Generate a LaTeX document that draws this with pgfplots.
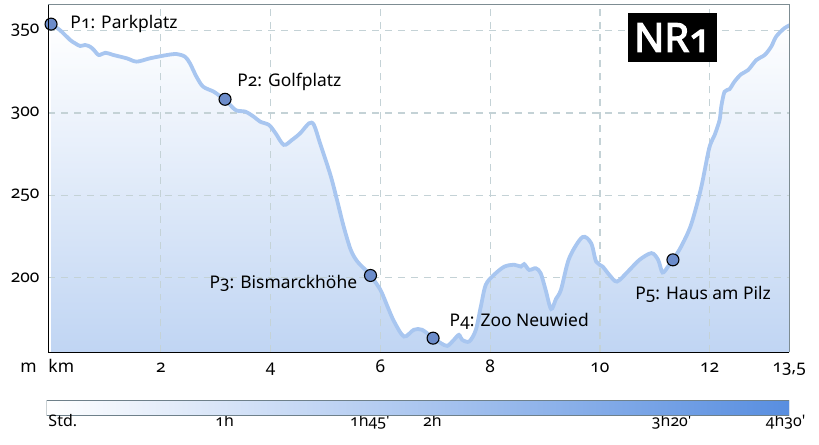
\documentclass[border=0pt]{standalone}
\usepackage{fontspec}
\setmainfont{Noto Sans}[Numbers=OldStyle]
\newfontfamily\nrfont{Noto Sans}[Numbers=OldStyle, FakeBold=3.2]
\usepackage{pgfplots}
\usepackage{pgfplotstable}
\pgfplotsset{compat=1.18}

\definecolor{linec}{RGB}{168,198,240}
\definecolor{dotc}{RGB}{108,140,202}
\definecolor{gridc}{RGB}{196,210,214}
\definecolor{fillc}{RGB}{192,213,243}
\definecolor{barc}{RGB}{88,142,224}
\definecolor{barb}{RGB}{110,128,138}
\definecolor{axgray}{RGB}{125,140,146}

\newcommand\lbl{\fontsize{17.5}{21}\selectfont}

% elevation profile, km / m
\pgfplotstableread{
x y
0 354
0.16 350.4
0.35 344.3
0.44 342.3
0.53 340.7
0.62 341.3
0.71 340.3
0.78 338.3
0.87 335.2
0.99 336.6
1.14 335.2
1.38 333.2
1.56 331.2
1.80 333.2
2.11 335.2
2.29 335.8
2.44 334.2
2.53 330.2
2.65 322
2.77 316
2.96 313
3.11 309.5
3.17 308.3
3.36 301.8
3.54 300.8
3.69 297.8
3.81 294.7
3.97 292.7
4.09 287.7
4.24 280.6
4.39 283.6
4.54 287.7
4.70 293.7
4.79 292.7
4.91 280.6
5.09 262.3
5.21 247.1
5.33 231.1
5.46 216.8
5.58 209.7
5.76 203.6
5.82 201.2
6.00 192.5
6.13 182.3
6.25 173.2
6.43 164.1
6.61 168.2
6.76 168.2
6.96 163.1
7.10 160.1
7.22 158.4
7.34 162.1
7.43 165.1
7.49 162.1
7.62 161.1
7.74 168.2
7.83 182.3
7.92 195.5
8.07 201.6
8.26 206.6
8.44 207.7
8.56 206.6
8.62 208.1
8.71 204.6
8.83 205.6
8.92 202.6
9.01 192.5
9.11 180.8
9.20 187
9.29 192.5
9.44 211.7
9.68 224.5
9.84 220.8
9.93 209.7
10.05 206.6
10.17 201.6
10.31 197.5
10.51 203.6
10.72 210.7
10.94 214.8
11.06 210.7
11.14 203.0
11.24 206.6
11.33 210.7
11.48 218.8
11.66 232
11.84 254
11.99 278.5
12.09 286.6
12.18 295.7
12.21 303.8
12.27 312.9
12.36 314.4
12.45 319.0
12.57 323.5
12.70 326.1
12.85 332.2
13.00 335.2
13.12 340.3
13.21 346.4
13.36 351.5
13.47 353.5
}\profile

\pgfplotstableread{
x y
0 354
3.17 308.3
5.82 201.2
6.96 163.1
11.33 210.7
}\points

\begin{document}
\begin{tikzpicture}
\begin{axis}[
  name=main, set layers, clip mode=individual,
  width=741bp, height=347.6bp, scale only axis,
  xmin=-0.05, xmax=13.45, ymin=154.5, ymax=365.8,
  xtick={2,4,6,8,10,12,13.45},
  xticklabels={2,4,6,8,10,12,{13,5}},
  ytick={200,250,300,350},
  yticklabels={200,250,300,350},
  /pgf/number format/assume math mode=true,
  tick label style={font=\lbl},
  xticklabel style={anchor=base, yshift=-19.7bp},
  yticklabel style={xshift=-5.3bp},
  major tick length=0pt,
  axis line style={draw=none},
  grid=major,
  major grid style={draw=gridc, line width=1.3pt, dash pattern=on 7pt off 6pt},
]
\addplot[forget plot, draw=none, top color=white, bottom color=fillc,
  on layer=axis background, smooth, tension=0.5]
  table {\profile} \closedcycle;
\addplot[linec, line width=3.8bp, smooth, tension=0.5, line cap=round]
  table {\profile};
\addplot[only marks, mark=*, mark size=6bp,
  mark options={fill=dotc, draw=black, line width=1.1pt}]
  table {\points};

\draw[black, line width=1pt] (rel axis cs:0,1) -- (rel axis cs:0,0) -- (rel axis cs:1,0);
\draw[axgray, line width=1pt] (rel axis cs:0,1) -- (rel axis cs:1,1) -- (rel axis cs:1,0);

\node[anchor=base west, inner sep=0pt, font=\lbl] at (axis cs:0.35,351.6) {P1: Parkplatz};
\node[anchor=base west, inner sep=0pt, font=\lbl] at (axis cs:3.39,315.8) {P2: Golfplatz};
\node[anchor=base east, inner sep=0pt, font=\lbl] at (axis cs:5.58,193.5) {P3: Bismarckhöhe};
\node[anchor=base west, inner sep=0pt, font=\lbl] at (axis cs:7.26,170.2) {P4: Zoo Neuwied};
\node[anchor=base west, inner sep=0pt, font=\lbl] at (axis cs:10.64,186.4) {P5: Haus am Pilz};

\node[anchor=base west, inner sep=0pt, font=\lbl] at ([yshift=-19.7bp]rel axis cs:0,0) {km};
\node[anchor=base east, inner sep=0pt, font=\lbl] at ([xshift=-11.3bp, yshift=-19.7bp]rel axis cs:0,0) {m};

\node[fill=black, text=white, font=\nrfont\fontsize{40}{40}\selectfont,
  minimum width=89bp, minimum height=48.4bp, inner sep=0pt]
  at (rel axis cs:0.8424,0.9056) {NR1};
\end{axis}

\begin{axis}[
  at={(main.south west)}, anchor=north west, xshift=-1.6bp, yshift=-48.4bp,
  width=742.3bp, height=14.3bp, scale only axis, clip mode=individual,
  xmin=-0.078, xmax=13.47, ymin=0, ymax=1,
  xtick={3.17,5.82,6.96,11.33,13.41},
  xticklabels={1h,1h45\textquotesingle,2h,3h20\textquotesingle,4h30\textquotesingle},
  ytick=\empty,
  tick label style={font=\fontsize{16}{18}\selectfont},
  xticklabel style={anchor=base, yshift=-11.5bp},
  major tick length=0pt,
  axis line style={draw=none},
]
\addplot[left color=white, right color=barc, draw=barb, line width=1pt]
  coordinates {(-0.078,0) (13.47,0) (13.47,1) (-0.078,1)} -- cycle;
\node[anchor=base west, inner sep=0pt, font=\fontsize{16}{18}\selectfont]
  at ([xshift=1.6bp, yshift=-11.5bp]rel axis cs:0,0) {Std.};
\end{axis}

\path ([xshift=-48.3bp, yshift=-92.7bp]main.south west) rectangle ([xshift=29.7bp, yshift=4.7bp]main.north east);
\end{tikzpicture}
\end{document}
